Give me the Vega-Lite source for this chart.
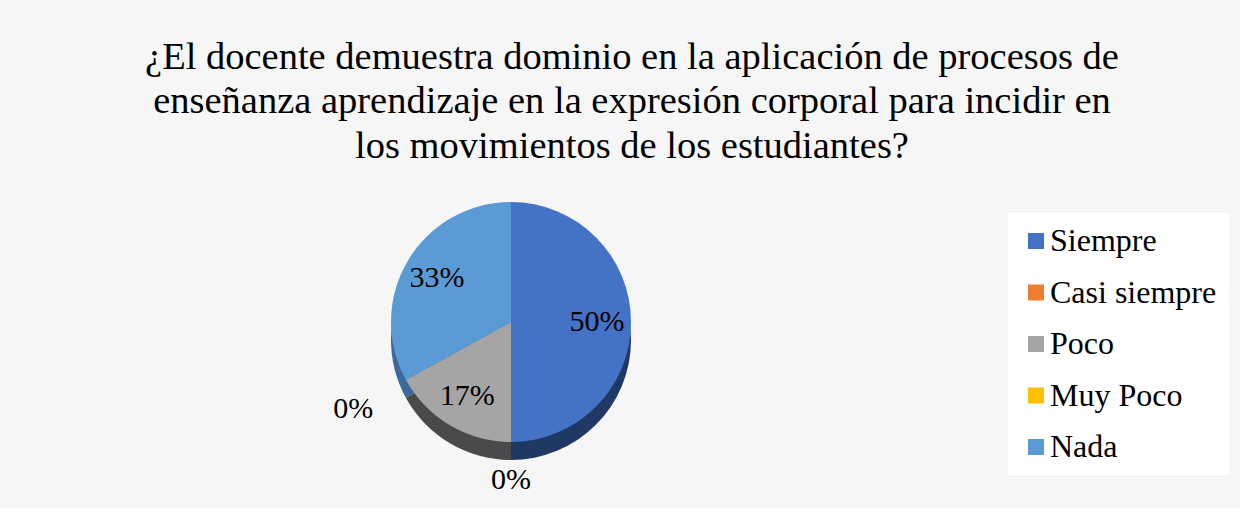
{
  "$schema": "https://vega.github.io/schema/vega-lite/v6.json",
  "width": 300,
  "height": 300,
  "autosize": "none",
  "padding": {"left": 361, "top": 172, "right": 579, "bottom": 36},
  "background": "#f6f6f6",
  "title": {
    "text": ["¿El docente demuestra dominio en la aplicación de procesos de", "enseñanza aprendizaje en la expresión corporal para incidir en", "los movimientos de los estudiantes?"],
    "font": "Liberation Serif",
    "fontSize": 38.5,
    "fontWeight": "normal",
    "color": "#000000",
    "lineHeight": 44.5,
    "anchor": "middle",
    "dx": 121,
    "baseline": "alphabetic",
    "offset": -24
  },
  "data": {
    "values": [
      {"respuesta": "Siempre", "porcentaje": 0.50, "orden": 1},
      {"respuesta": "Casi siempre", "porcentaje": 0.0, "orden": 2},
      {"respuesta": "Poco", "porcentaje": 0.17, "orden": 3},
      {"respuesta": "Muy Poco", "porcentaje": 0.0, "orden": 4},
      {"respuesta": "Nada", "porcentaje": 0.33, "orden": 5}
    ]
  },
  "encoding": {
    "theta": {"field": "porcentaje", "type": "quantitative", "stack": true},
    "order": {"field": "orden", "type": "quantitative"}
  },
  "layer": [
    {
      "mark": {"type": "arc", "outerRadius": 120, "yOffset": 18},
      "encoding": {
        "color": {
          "field": "respuesta",
          "type": "nominal",
          "scale": {"domain": ["Siempre", "Casi siempre", "Poco", "Muy Poco", "Nada"], "range": ["#1f3864", "#8a4a1c", "#4a4a4a", "#997300", "#3a6a99"]},
          "legend": null
        }
      }
    },
    {
      "mark": {"type": "arc", "outerRadius": 120},
      "encoding": {
        "color": {
          "field": "respuesta",
          "type": "nominal",
          "scale": {"domain": ["Siempre", "Casi siempre", "Poco", "Muy Poco", "Nada"], "range": ["#4472c4", "#ed7d31", "#a5a5a5", "#ffc000", "#5b9bd5"]},
          "legend": {
            "title": null,
            "orient": "none",
            "legendX": 647,
            "legendY": 41,
            "fillColor": "white",
            "padding": 12,
            "symbolType": "square",
            "symbolSize": 256,
            "symbolStrokeWidth": 0,
            "symbolOffset": 0,
            "labelFont": "Liberation Serif",
            "labelFontSize": 32,
            "labelColor": "#000000",
            "labelOffset": -2,
            "labelLimit": 300,
            "rowPadding": 19.5
          }
        }
      }
    },
    {
      "mark": {"type": "text", "radius": 86, "font": "Liberation Serif", "fontSize": 30, "color": "#000000"},
      "encoding": {
        "text": {"field": "porcentaje", "type": "quantitative", "format": ".0%"},
        "opacity": {"condition": {"test": "datum.porcentaje > 0", "value": 1}, "value": 0}
      }
    },
    {
      "mark": {"type": "text", "radius": 158, "font": "Liberation Serif", "fontSize": 30, "color": "#000000"},
      "encoding": {
        "text": {"field": "porcentaje", "type": "quantitative", "format": ".0%"},
        "opacity": {"condition": {"test": "datum.respuesta === 'Casi siempre'", "value": 1}, "value": 0}
      }
    },
    {
      "mark": {"type": "text", "radius": 180, "font": "Liberation Serif", "fontSize": 30, "color": "#000000"},
      "encoding": {
        "text": {"field": "porcentaje", "type": "quantitative", "format": ".0%"},
        "opacity": {"condition": {"test": "datum.respuesta === 'Muy Poco'", "value": 1}, "value": 0}
      }
    }
  ],
  "resolve": {"scale": {"color": "independent"}},
  "config": {"view": {"stroke": null}}
}
